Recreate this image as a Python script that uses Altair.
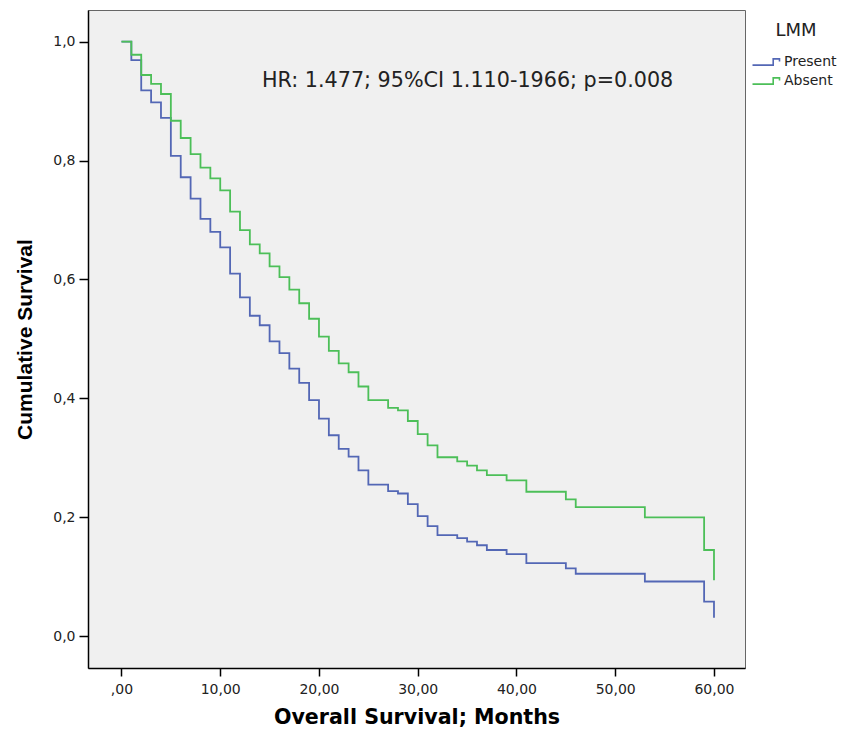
import altair as alt
import pandas as pd

# ---- data ----
times = [0, 1, 2, 3, 4, 5, 6, 7, 8, 9, 10, 11, 12, 13, 14, 15, 16, 17, 18, 19, 20,
         21, 22, 23, 24, 25, 27, 28, 29, 30, 31, 32, 34, 35, 36, 37, 39, 41, 45, 46,
         53, 59, 60]
present = [1.0, 0.969, 0.918, 0.898, 0.872, 0.808, 0.772, 0.736, 0.702, 0.680, 0.654,
           0.610, 0.570, 0.539, 0.523, 0.496, 0.476, 0.450, 0.426, 0.397, 0.366,
           0.338, 0.315, 0.302, 0.279, 0.255, 0.244, 0.240, 0.222, 0.202, 0.185, 0.170,
           0.165, 0.159, 0.153, 0.145, 0.138, 0.123, 0.114, 0.105, 0.092, 0.058, 0.031]
absent = [1.0, 0.978, 0.944, 0.929, 0.912, 0.867, 0.838, 0.811, 0.788, 0.770, 0.750,
          0.714, 0.683, 0.659, 0.644, 0.622, 0.604, 0.583, 0.560, 0.534, 0.504,
          0.480, 0.459, 0.444, 0.420, 0.397, 0.384, 0.380, 0.362, 0.340, 0.321, 0.301,
          0.294, 0.287, 0.279, 0.271, 0.262, 0.243, 0.230, 0.217, 0.200, 0.145, 0.094]
groups = ["Present", "Absent"]
group_colors = ["#5367b5", "#4cbf58"]
x_ticks = [0, 10, 20, 30, 40, 50, 60]
y_ticks = [0.0, 0.2, 0.4, 0.6, 0.8, 1.0]
annotation = "HR: 1.477; 95%CI 1.110-1966; p=0.008"

rows = []
for g, vals in zip(groups, [present, absent]):
    for i, (t, v) in enumerate(zip(times, vals)):
        rows.append({"time": t, "surv": v, "LMM": g, "order": i})
df = pd.DataFrame(rows)

FONT = "DejaVu Sans"

x_enc = alt.X(
    "time:Q",
    scale=alt.Scale(domain=[-3.39, 63.14], nice=False, zero=False),
    axis=alt.Axis(
        values=x_ticks,
        labelExpr="datum.value == 0 ? ',00' : replace(format(datum.value, '.2f'), '.', ',')",
        title="Overall Survival; Months",
        titleFont=FONT,
        titleFontSize=20.6,
        grid=False,
        tickSize=8,
        labelPadding=6,
        titlePadding=11,
    ),
)
y_enc = alt.Y(
    "surv:Q",
    scale=alt.Scale(domain=[-0.0535, 1.0533], nice=False, zero=False),
    axis=alt.Axis(
        values=y_ticks,
        labelExpr="replace(format(datum.value, '.1f'), '.', ',')",
        title="Cumulative Survival",
        titleFont="Liberation Sans",
        titleFontSize=21,
        grid=False,
        tickSize=9,
        labelPadding=4,
        titlePadding=17,
    ),
)

lines = alt.Chart(df).mark_line(interpolate="step-after", strokeWidth=1.8).encode(
    x=x_enc,
    y=y_enc,
    order="order:Q",
    color=alt.Color(
        "LMM:N",
        scale=alt.Scale(domain=groups, range=group_colors),
        legend=alt.Legend(
            title="LMM",
            orient="none",
            legendX=668,
            legendY=12,
            padding=0,
            titleAnchor="middle",
            titleFont=FONT,
            titleFontSize=18,
            titleFontWeight="normal",
            titleColor="#222222",
            titlePadding=12,
            labelFont=FONT,
            labelFontSize=14,
            labelColor="#222222",
            labelOffset=8,
            symbolType="M-1.5,0.35 L0.8,0.35 L0.8,-0.35 L1.5,-0.35 L1.5,-0.05",
            symbolSize=324,
            symbolStrokeWidth=1.6,
            rowPadding=2,
        ),
    ),
)

text_df = pd.DataFrame({"label": [annotation]})
note = alt.Chart(text_df).mark_text(
    align="left", baseline="middle", font=FONT, fontSize=20.7, color="#222222"
).encode(text="label:N", x=alt.value(174), y=alt.value(71))

chart = (
    alt.layer(lines, note)
    .properties(
        width=657,
        height=658,
        autosize=alt.AutoSizeParams(type="none"),
        padding={"left": 80, "top": 2, "right": 96, "bottom": 62},
        background="white",
    )
    .configure_view(fill="#f0f0f0", stroke="#666666", strokeWidth=1)
    .configure_axis(
        domainColor="black",
        domainWidth=1.5,
        tickColor="black",
        tickWidth=1.5,
        labelFont=FONT,
        labelFontSize=14,
        labelColor="#222222",
        titleFontWeight="bold",
        titleColor="black",
    )
)

chart.save("out.html", embed_options={"renderer": "svg", "actions": False})
